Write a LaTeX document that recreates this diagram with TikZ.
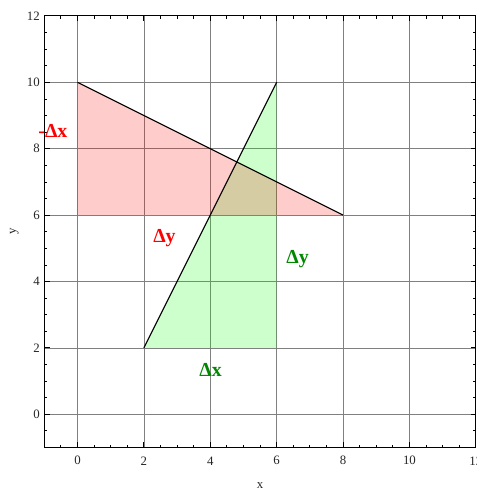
\documentclass[tikz,border=0pt]{standalone}
\usepackage{fontspec}
\setmainfont{Liberation Serif}
\definecolor{dgreen}{RGB}{0,136,0}
\begin{document}
\begin{tikzpicture}[x=1cm,y=1cm,
  gridline/.style={draw=black!50, line width=0.6pt},
  frameline/.style={draw=black, line width=0.9pt},
  tickline/.style={draw=black, line width=0.7pt},
  curve/.style={draw=black, line width=0.9pt},
  ticklab/.style={font=\fontsize{11}{13}\selectfont, text=black!85, inner sep=0pt},
  dlabel/.style={font=\fontsize{17}{19}\selectfont\bfseries, inner sep=0pt, anchor=base}]
\useasboundingbox (-2.334,-2.22) rectangle (12.02,12.48);
% grid
\foreach \g in {0,2,...,10} {
  \draw[gridline] (\g,-1) -- (\g,12);
  \draw[gridline] (-1,\g) -- (12,\g);
}
% vertices
\coordinate (A) at (0,10);
\coordinate (B) at (0,6);
\coordinate (C) at (8,6);
\coordinate (D) at (2,2);
\coordinate (E) at (6,10);
\coordinate (F) at (6,2);
% fills (green below red)
\fill[green, fill opacity=0.2] (D) -- (E) -- (F) -- cycle;
\fill[red, fill opacity=0.2] (A) -- (B) -- (C) -- cycle;
% lines
\draw[curve] (A) -- (C);
\draw[curve] (D) -- (E);
% minor ticks
\foreach \t in {-0.5,0,...,11.5} {
  \draw[tickline] (\t,-1) -- ++(0,0.09);
  \draw[tickline] (\t,12) -- ++(0,-0.09);
  \draw[tickline] (-1,\t) -- ++(0.09,0);
  \draw[tickline] (12,\t) -- ++(-0.09,0);
}
% major ticks
\foreach \t in {0,2,...,10} {
  \draw[tickline] (\t,-1) -- ++(0,0.16);
  \draw[tickline] (\t,12) -- ++(0,-0.16);
  \draw[tickline] (-1,\t) -- ++(0.16,0);
  \draw[tickline] (12,\t) -- ++(-0.16,0);
}
% frame
\draw[frameline] (-1,-1) rectangle (12,12);
% tick labels
\foreach \t in {0,2,...,12} {
  \node[ticklab] (xl\t) at (\t,-1.4) {\t};
  \node[ticklab, anchor=east] (yl\t) at (-1.13,\t) {\t};
}
% axis labels
\node[ticklab, anchor=base] (xlab) at (5.5,-2.23) {x};
\node[ticklab, rotate=90] (ylab) at (-1.9,5.5) {y};
% delta labels
\node[dlabel, text=red] (mdx) at (-0.74,8.35) {-Δx};
\node[dlabel, text=red] (rdy) at (2.62,5.18) {Δy};
\node[dlabel, text=dgreen] (gdy) at (6.63,4.53) {Δy};
\node[dlabel, text=dgreen] (gdx) at (4.01,1.14) {Δx};
\end{tikzpicture}
\end{document}
